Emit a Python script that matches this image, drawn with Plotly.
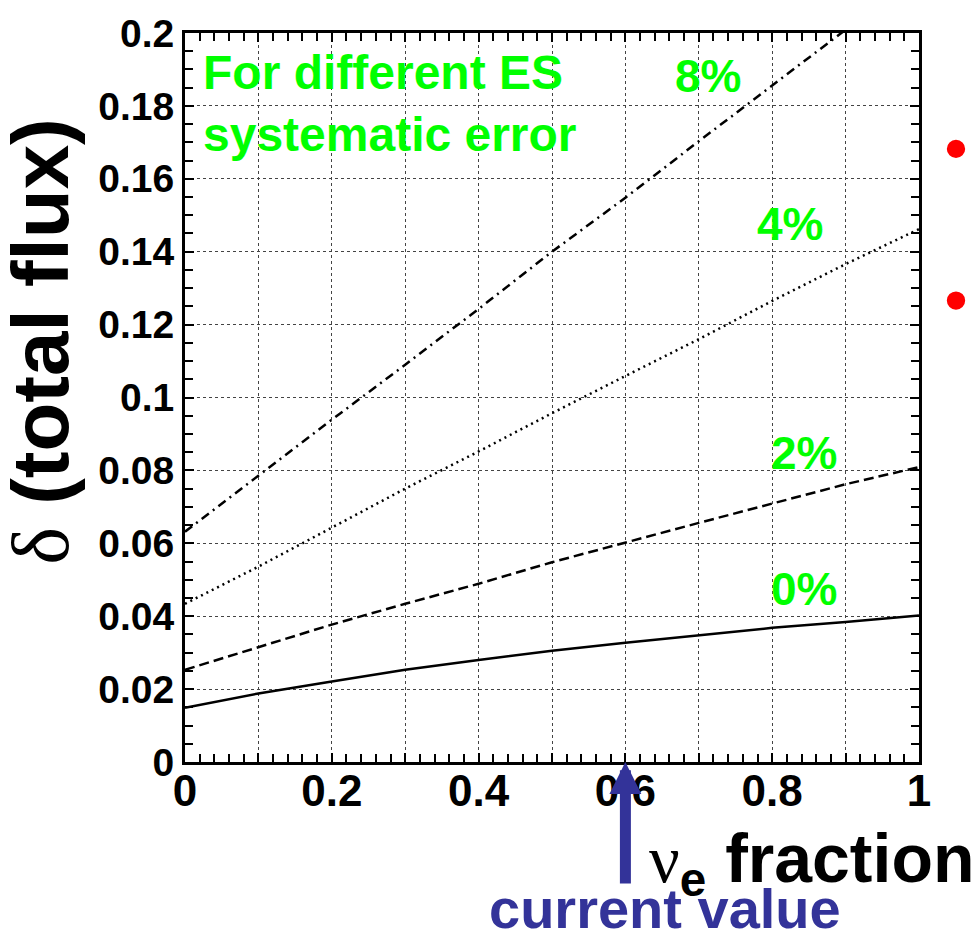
import plotly.graph_objects as go

# nu_e fraction sampled along the x axis
x_frac = [0.0, 0.1, 0.2, 0.3, 0.4, 0.5, 0.6, 0.7, 0.8, 0.9, 1.0]

# delta(total flux) for each ES systematic error
err_0pct = [0.0149, 0.0188, 0.0221, 0.0253, 0.0280, 0.0305, 0.0327, 0.0348, 0.0368, 0.0384, 0.0402]
err_2pct = [0.0253, 0.0315, 0.0377, 0.0434, 0.0489, 0.0548, 0.0603, 0.0656, 0.0709, 0.0762, 0.0809]
err_4pct = [0.0434, 0.0536, 0.0643, 0.0750, 0.0852, 0.0957, 0.1059, 0.1160, 0.1265, 0.1366, 0.1462]
err_8pct = [0.0632, 0.0786, 0.0939, 0.1090, 0.1243, 0.1400, 0.1548, 0.1703, 0.1856, 0.2009]

curve_labels = ["0%", "2%", "4%", "8%"]
label_x = [0.843, 0.843, 0.824, 0.7125]
label_y = [0.0475, 0.0847, 0.1476, 0.1882]

current_value = 0.6

x_tickvals = [0.0, 0.1, 0.2, 0.3, 0.4, 0.5, 0.6, 0.7, 0.8, 0.9, 1.0]
x_ticktext = ["0", "", "0.2", "", "0.4", "", "0.6", "", "0.8", "", "1"]
y_tickvals = [0.0, 0.02, 0.04, 0.06, 0.08, 0.10, 0.12, 0.14, 0.16, 0.18, 0.20]
y_ticktext = ["0", "0.02", "0.04", "0.06", "0.08", "0.1", "0.12", "0.14", "0.16", "0.18", "0.2"]

SANS = "Liberation Sans, Arial, sans-serif"
SERIF = "Liberation Serif, Times New Roman, serif"
GREEN = "#00ff00"
BLUE = "#333399"

fig = go.Figure()

styles = [
    (x_frac, err_0pct, "solid"),
    (x_frac, err_2pct, "10px,5px"),
    (x_frac, err_4pct, "2px,4px"),
    (x_frac[:len(err_8pct)], err_8pct, "9px,5px,2px,5px"),
]
for xs, ys, dash in styles:
    fig.add_trace(go.Scatter(
        x=xs, y=ys, mode="lines",
        line=dict(color="black", width=2.5, dash=dash),
        showlegend=False, hoverinfo="skip",
    ))

axis_common = dict(
    showline=True, linecolor="black", linewidth=3, mirror="allticks",
    ticks="inside", ticklen=9, tickwidth=1.5, tickcolor="black",
    showgrid=True, gridcolor="#444444", gridwidth=1, griddash="3px,3px",
    zeroline=False,
    tickfont=dict(family=SANS, color="black", weight="bold"),
)

fig.update_xaxes(
    **axis_common,
    range=[0, 1], tickmode="array", tickvals=x_tickvals, ticktext=x_ticktext,
    minor=dict(dtick=0.02, ticks="inside", ticklen=8, tickwidth=1.5,
               tickcolor="black", showgrid=False),
)
fig.update_xaxes(tickfont_size=44, ticklabelstandoff=-12)
fig.update_yaxes(
    **axis_common,
    range=[0, 0.2], tickmode="array", tickvals=y_tickvals, ticktext=y_ticktext,
    minor=dict(dtick=0.005, ticks="inside", ticklen=8, tickwidth=1.5,
               tickcolor="black", showgrid=False),
)
fig.update_yaxes(tickfont_size=39, ticklabelstandoff=0)

annotations = []
for txt, lx, ly in zip(curve_labels, label_x, label_y):
    annotations.append(dict(
        x=lx, y=ly, xref="x", yref="y", text=txt, showarrow=False,
        xanchor="center", yanchor="middle",
        font=dict(family=SANS, size=46, color=GREEN, weight="bold"),
    ))

annotations.append(dict(
    x=0.022, y=0.2, xref="x", yref="y", yshift=-11,
    text="For different ES<br>systematic error", showarrow=False,
    xanchor="left", yanchor="top", align="left",
    font=dict(family=SANS, size=48, color=GREEN, weight="bold"),
))

# y-axis title
annotations.append(dict(
    x=-0.197, y=0.577, xref="paper", yref="paper",
    text=f"<span style=\"font-family:{SERIF};font-weight:normal\">δ</span> (total flux)",
    showarrow=False, textangle=-90, xanchor="center", yanchor="middle",
    font=dict(family=SANS, size=80, color="black", weight="bold"),
))

# x-axis title
annotations.append(dict(
    x=1.078, y=-0.139, xref="paper", yref="paper",
    text=f"<span style=\"font-family:{SERIF};font-weight:normal\">ν</span><sub>e</sub> fraction",
    showarrow=False, xanchor="right", yanchor="middle",
    font=dict(family=SANS, size=68, color="black", weight="bold"),
))

# arrow marking the current value
annotations.append(dict(
    x=current_value, y=0, xref="x", yref="y",
    ax=0, ay=123, text="", showarrow=True,
    arrowhead=2, arrowwidth=11, arrowsize=0.58, arrowcolor=BLUE, standoff=0,
))
annotations.append(dict(
    x=0.654, y=-0.201, xref="paper", yref="paper",
    text="current value", showarrow=False, xanchor="center", yanchor="middle",
    font=dict(family=SANS, size=56, color=BLUE, weight="bold"),
))

# bullet dots at the right edge
bullet_x = 1.0504
bullet_y = [0.841, 0.633]
r = 0.0125
shapes = [
    dict(type="circle", xref="paper", yref="paper",
         x0=bullet_x - r, x1=bullet_x + r, y0=by - r, y1=by + r,
         fillcolor="#ff0000", line=dict(width=0))
    for by in bullet_y
]

fig.update_layout(
    width=977, height=936,
    margin=dict(l=185, r=58, t=28, b=174),
    plot_bgcolor="white", paper_bgcolor="white",
    annotations=annotations, shapes=shapes,
    showlegend=False,
)

fig.write_html("out.html")
